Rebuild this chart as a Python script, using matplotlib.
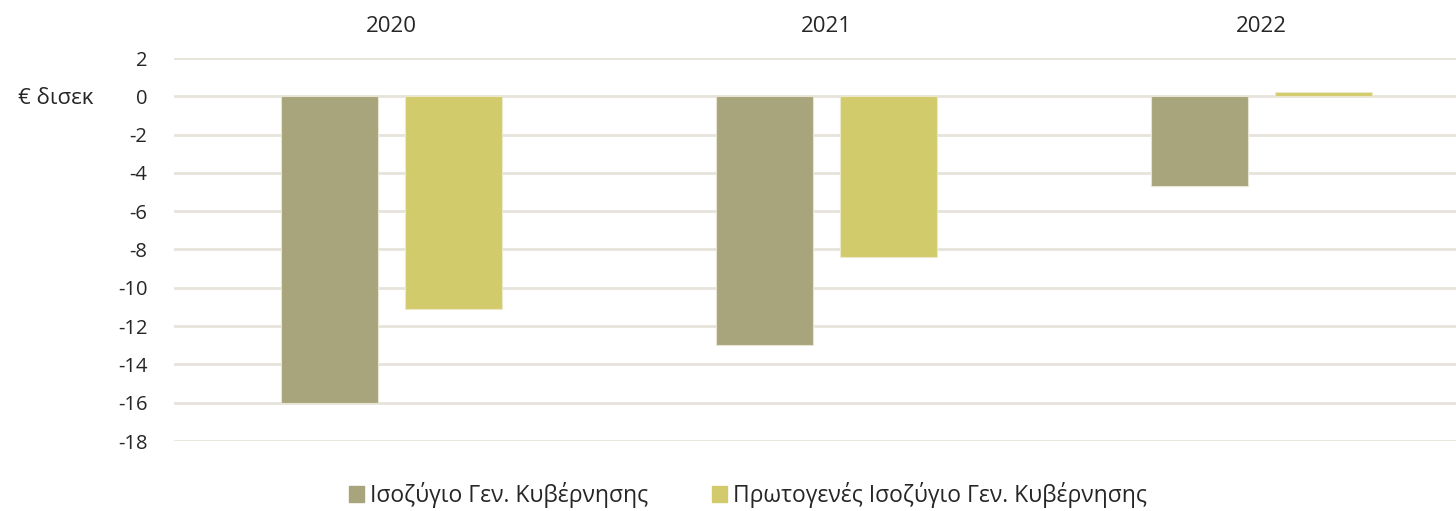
import numpy as np
import matplotlib.pyplot as plt
from matplotlib.patches import Patch

years = ['2020', '2021', '2022']
general_balance = [-16.0, -13.0, -4.7]
primary_balance = [-11.1, -8.4, 0.25]
series_names = ['Ισοζύγιο Γεν. Κυβέρνησης', 'Πρωτογενές Ισοζύγιο Γεν. Κυβέρνησης']
yticks = list(range(-18, 3, 2))

c1 = '#A8A57C'
c2 = '#D2CB6B'
grid_c = '#E6E3DB'
txt_c = '#262626'

plt.rcParams['font.family'] = ['Open Sans', 'DejaVu Sans']

W, H = 1456, 511
fig = plt.figure(figsize=(W / 100, H / 100), dpi=100)
# axes run a bit past the right edge, like the source
ax = fig.add_axes([174 / W, 1 - 441 / H, (1479 - 174) / W, (441 - 58) / H])

x = np.arange(len(years))
bw = 0.223
off = 0.142
ax.bar(x - off, general_balance, bw, color=c1, edgecolor='#E8E4D4', linewidth=0.8, zorder=3)
ax.bar(x + off, primary_balance, bw, color=c2, edgecolor='#EDE8C8', linewidth=0.8, zorder=3)

ax.set_xlim(-0.5, 2.5)
ax.set_ylim(-18, 2)
ax.set_yticks(yticks)
ax.set_yticklabels([str(v) for v in yticks], fontsize=14.5, color=txt_c)
ax.tick_params(axis='y', length=0, pad=19)
ax.yaxis.grid(True, color=grid_c, linewidth=2, zorder=0)
ax.xaxis.tick_top()
ax.set_xticks(x)
ax.set_xticklabels(years, fontsize=16, color=txt_c)
ax.tick_params(axis='x', length=0, pad=15)
for s in ax.spines.values():
    s.set_visible(False)

fig.text(18 / W, 1 - 98 / H, '€ δισεκ', fontsize=16, color=txt_c, va='center', ha='left')

handles = [Patch(color=c1), Patch(color=c2)]
fig.legend(handles, series_names, loc='center', bbox_to_anchor=(748 / W, 1 - 495 / H),
           ncol=2, frameon=False, fontsize=16.5, handlelength=0.65, handleheight=0.65,
           handletextpad=0.25, columnspacing=2.8, labelcolor=txt_c)

fig.savefig('out.png', dpi=100)
